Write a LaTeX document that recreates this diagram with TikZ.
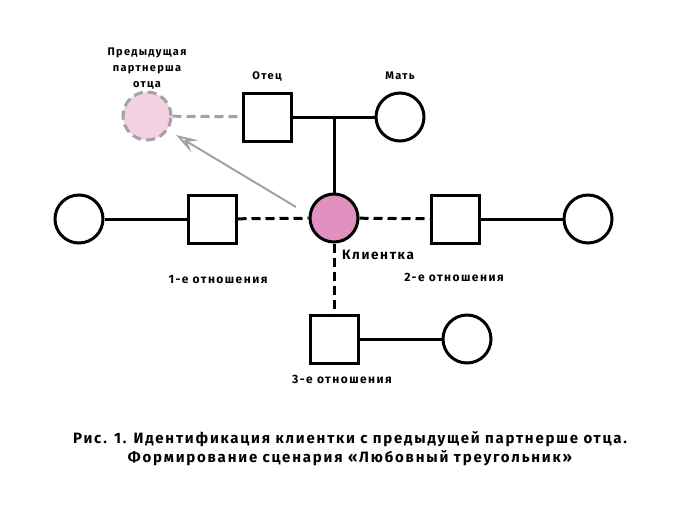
\documentclass[tikz,border=0pt]{standalone}
\usepackage{fontspec}
\setmainfont{Fira Sans}[LetterSpace=12]
\usetikzlibrary{arrows.meta, positioning}

\definecolor{clientpink}{HTML}{E091C0}
\definecolor{prevpink}{HTML}{F3D1E2}
\definecolor{arrowgray}{HTML}{A3A3A3}

\tikzset{
  male/.style={draw, line width=3pt, minimum size=48pt, inner sep=0pt, fill=white},
  female/.style={draw, circle, line width=3pt, minimum size=48pt, inner sep=0pt, fill=white},
  tie/.style={line width=3pt},
  tiedash/.style={line width=3pt, dash pattern=on 9pt off 5pt},
  lbl/.style={font=\bfseries\fontsize{11}{16}\selectfont, align=center, inner sep=0pt},
  figcaption/.style={font=\bfseries\fontsize{15}{19}\selectfont, align=center, inner sep=0pt}
}

\begin{document}
\begin{tikzpicture}[x=1pt,y=-1pt]
\useasboundingbox (0,0) rectangle (700,522);

% parents
\node[female, fill=prevpink, draw=arrowgray, dash pattern=on 9pt off 5pt] (prev) at (147,116) {};
\node[male] (father) at (267,117) {};
\node[female] (mother) at (400,117) {};
\coordinate (J) at (334,117);

% client and partners
\node[female, fill=clientpink] (client) at (334,218) {};
\node[female] (w1) at (79,219) {};
\node[male] (m1) at (212,219) {};
\node[male] (m2) at (455,219) {};
\node[female] (w2) at (588,219) {};
\node[male] (m3) at (334,339) {};
\node[female] (w3) at (467,339) {};

\draw[tiedash, draw=arrowgray] (prev) -- (father);
\draw[tie] (father) -- (mother);
\draw[tie] (J) -- (client);
\draw[tie] (w1) -- (m1);
\draw[tiedash] (m1) -- (client);
\draw[tiedash] (client) -- (m2);
\draw[tie] (m2) -- (w2);
\draw[tiedash] (client) -- (m3);
\draw[tie] (m3) -- (w3);

% identification arrow
\coordinate (arrtail) at (296,207);
\coordinate (arrtip) at (176,135);
\draw[-{Stealth[open, length=22pt, width=14pt, inset=9pt]}, arrowgray, line width=2pt] (arrtail) -- (arrtip);

% labels
\node[lbl] (prevlbl) at (147,69) {Предыдущая\\партнерша\\отца};
\node[lbl] (fatherlbl) at (267,77) {Отец};
\node[lbl] (motherlbl) at (400,76) {Мать};
\node[lbl, font=\bfseries\fontsize{13.5}{16}\selectfont, anchor=west] (clientlbl) at (342,255) {Клиентка};
\node[lbl, font=\bfseries\fontsize{12}{16}\selectfont] (rel1) at (218,280) {1-е отношения};
\node[lbl, font=\bfseries\fontsize{12}{16}\selectfont] (rel2) at (454,277) {2-е отношения};
\node[lbl, font=\bfseries\fontsize{12}{16}\selectfont] (rel3) at (342,379) {3-е отношения};

\node[figcaption] (caption) at (350,449) {Рис. 1. Идентификация клиентки с предыдущей партнерше отца.\\Формирование сценария «Любовный треугольник»};
\end{tikzpicture}
\end{document}
